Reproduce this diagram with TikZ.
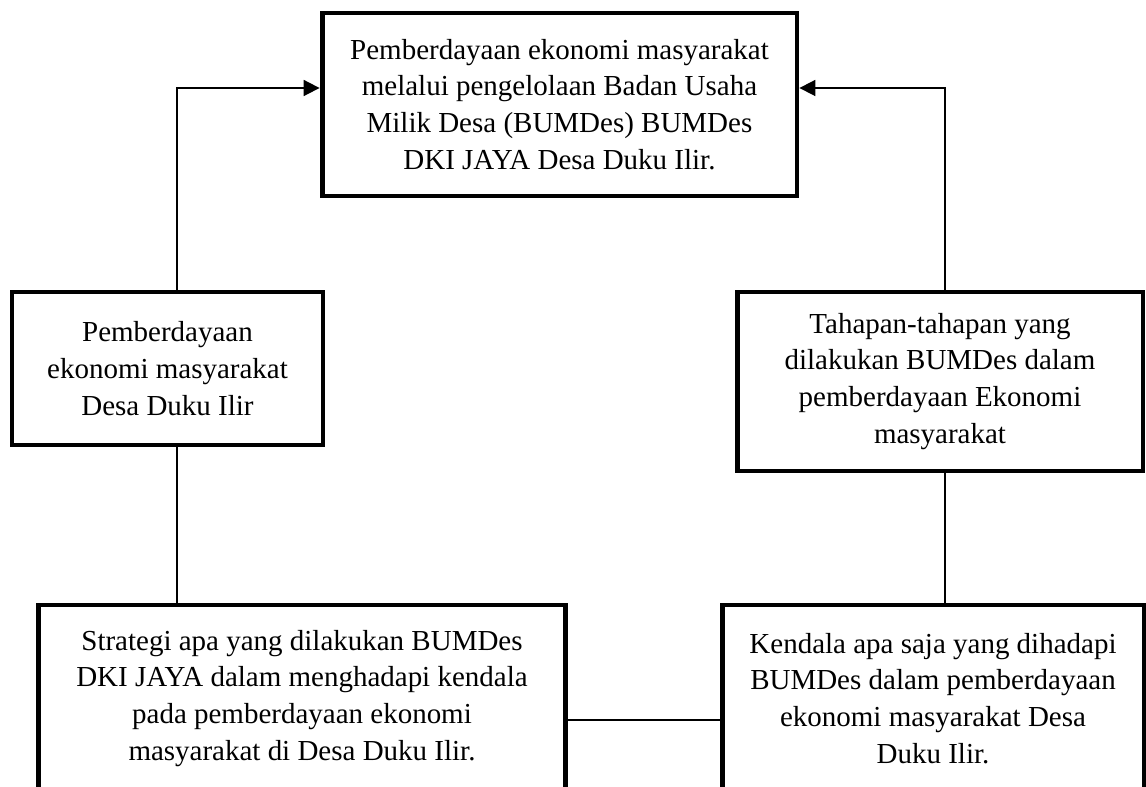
\documentclass[tikz,border=0pt]{standalone}
\usepackage{fontspec}
\setmainfont{Liberation Serif}
\usetikzlibrary{arrows.meta}
\begin{document}
\begin{tikzpicture}[x=0.02cm,y=-0.02cm,
  box/.style={draw,line width=2.8pt,align=center,inner sep=0pt,
    font=\fontsize{16.5}{21}\selectfont},
  link/.style={line width=1pt},
  arrowlink/.style={link,-{Triangle[length=0.32cm,width=0.32cm]}}]
\useasboundingbox (0,0) rectangle (1146,787);
\node[box,minimum width=9.5cm,minimum height=3.66cm] (top) at (559.5,104.5)
  {Pemberdayaan ekonomi masyarakat\\melalui pengelolaan Badan Usaha\\Milik Desa (BUMDes) BUMDes\\DKI JAYA Desa Duku Ilir.};
\node[box,minimum width=6.22cm,minimum height=3.06cm] (lb) at (167.5,368.5)
  {Pemberdayaan\\ekonomi masyarakat\\Desa Duku Ilir};
\node[box,minimum width=8.12cm,minimum height=3.58cm] (rb) at (940,381.5)
  {Tahapan-tahapan yang\\dilakukan BUMDes dalam\\pemberdayaan Ekonomi\\masyarakat};
\node[box,minimum width=10.56cm,minimum height=3.74cm] (bl) at (302,698.5)
  {Strategi apa yang dilakukan BUMDes\\DKI JAYA dalam menghadapi kendala\\pada pemberdayaan ekonomi\\masyarakat di Desa Duku Ilir.};
\node[box,minimum width=8.44cm,minimum height=3.74cm] (br) at (933,698.5)
  {Kendala apa saja yang dihadapi\\BUMDes dalam pemberdayaan\\ekonomi masyarakat Desa\\Duku Ilir.};
\coordinate (lc) at (177,88);
\coordinate (rc) at (945,88);
\coordinate (bc) at (0,720);
\draw[arrowlink] (lb.north -| lc) -- (lc) -- (top.west |- lc);
\draw[arrowlink] (rb.north -| rc) -- (rc) -- (top.east |- rc);
\draw[link] (lb.south -| lc) -- (bl.north -| lc);
\draw[link] (rb.south -| rc) -- (br.north -| rc);
\draw[link] (bl.east |- bc) -- (br.west |- bc);
\end{tikzpicture}
\end{document}
